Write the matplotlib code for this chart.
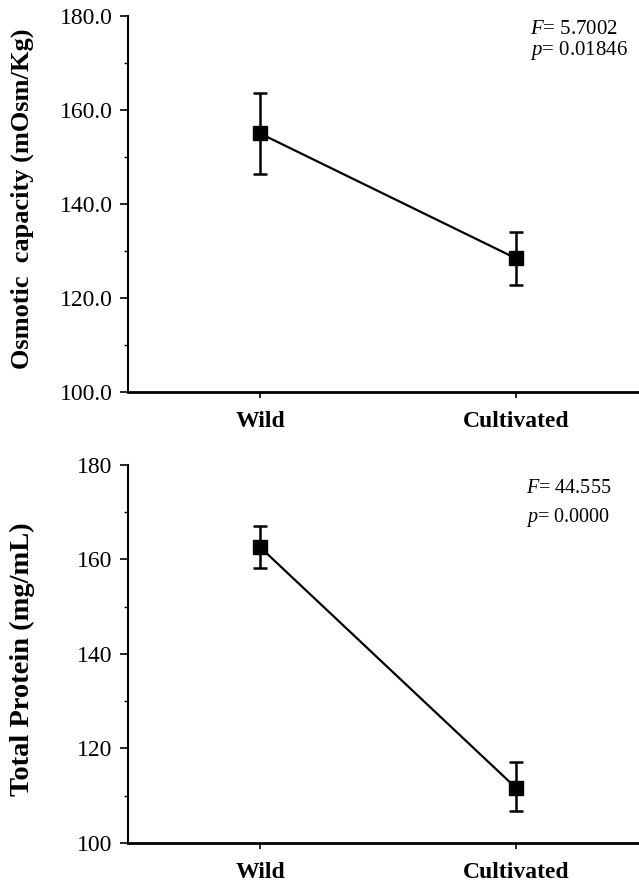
import matplotlib
matplotlib.use("Agg")
import matplotlib.pyplot as plt
from matplotlib.ticker import MultipleLocator, FormatStrFormatter

plt.rcParams['font.family'] = ['Liberation Serif', 'DejaVu Serif']
plt.rcParams['mathtext.fontset'] = 'custom'
plt.rcParams['mathtext.rm'] = 'Liberation Serif'
plt.rcParams['mathtext.it'] = 'Liberation Serif:italic'
plt.rcParams['mathtext.bf'] = 'Liberation Serif:bold'

categories = ["Wild", "Cultivated"]

osm_mean = [155.0, 128.4]
osm_low = [146.3, 122.7]
osm_high = [163.7, 134.1]
osm_stats = ["$\\it{F}$= 5.7002", "$\\it{p}$= 0.01846"]
osm_ticks = [100.0, 120.0, 140.0, 160.0, 180.0]

prot_mean = [162.6, 111.6]
prot_low = [158.2, 106.8]
prot_high = [167.0, 117.1]
prot_stats = ["$\\it{F}$= 44.555", "$\\it{p}$= 0.0000"]
prot_ticks = [100, 120, 140, 160, 180]

fig = plt.figure(figsize=(6.39, 8.84), dpi=100)
ax1 = fig.add_axes([0.2003, 0.5566, 0.80, 0.4253])
ax2 = fig.add_axes([0.2003, 0.0464, 0.80, 0.4276])

def draw(ax, mean, low, high, stats, ticks, fmt, ylabel, lsize, ly, sx, sy1, sy2, ssize):
    x = list(range(len(categories)))
    yerr = [[m - l for m, l in zip(mean, low)], [h - m for m, h in zip(mean, high)]]
    ax.errorbar(x, mean, yerr=yerr, color='black', lw=1.6, marker='s', ms=10,
                capsize=5, capthick=1.8, elinewidth=1.8, zorder=3)
    ax.set_xlim(-0.516, 1.48)
    ax.set_ylim(ticks[0], ticks[-1])
    ax.set_yticks(ticks)
    ax.yaxis.set_minor_locator(MultipleLocator(10))
    ax.yaxis.set_major_formatter(FormatStrFormatter(fmt))
    ax.set_xticks(x)
    ax.set_xticklabels(categories, fontweight='bold', fontsize=17)
    ax.tick_params(axis='y', which='major', direction='out', length=6, width=1.2, labelsize=17, pad=5)
    ax.tick_params(axis='y', which='minor', direction='out', length=3, width=1.0)
    ax.tick_params(axis='x', which='major', direction='out', length=4, width=1.2, pad=10)
    for s in ['top', 'right']:
        ax.spines[s].set_visible(False)
    ax.spines['left'].set_linewidth(1.5)
    ax.spines['bottom'].set_linewidth(2.0)
    ax.set_ylabel(ylabel, fontweight='bold', fontsize=lsize)
    ax.yaxis.label.set_va('center')
    ax.yaxis.set_label_coords(-0.207, ly)
    ax.text(sx, sy1, stats[0], transform=ax.transAxes, fontsize=ssize, ha='left', va='center')
    ax.text(sx, sy2, stats[1], transform=ax.transAxes, fontsize=ssize, ha='left', va='center')

draw(ax1, osm_mean, osm_low, osm_high, osm_stats, osm_ticks, '%.1f',
     'Osmotic  capacity (mOsm/Kg)', 19, 0.513, 0.787, 0.963, 0.908, 15)
draw(ax2, prot_mean, prot_low, prot_high, prot_stats, prot_ticks, '%d',
     'Total Protein (mg/mL)', 20.5, 0.485, 0.778, 0.937, 0.862, 14.5)

fig.savefig("out.png", dpi=100)
